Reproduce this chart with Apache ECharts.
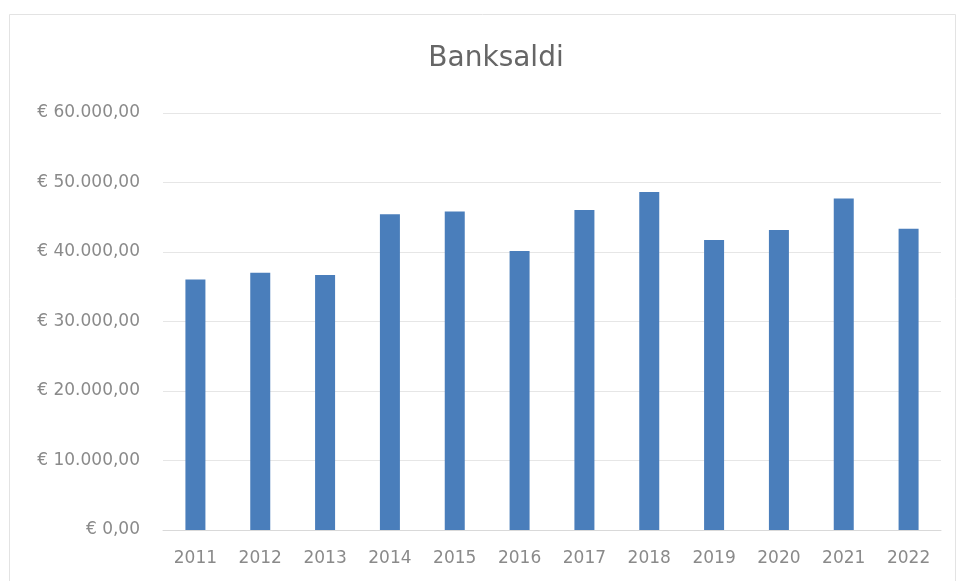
<!DOCTYPE html>
<html>
<head>
<meta charset="utf-8">
<script src="https://cdn.jsdelivr.net/npm/echarts@6/dist/echarts.min.js"></script>
<style>
html,body{margin:0;padding:0;background:#fff;}
#c{width:957px;height:581px;}
</style>
</head>
<body>
<div id="c"></div>
<script>
const titleText = 'Banksaldi';
const years = ['2011','2012','2013','2014','2015','2016','2017','2018','2019','2020','2021','2022'];
const saldi = [36050, 37020, 36680, 45430, 45810, 40140, 46050, 48650, 41720, 43170, 47690, 43360];
const yTicks = [0, 10000, 20000, 30000, 40000, 50000, 60000];

function fmtEuro(v) {
  const s = Math.round(v).toString().replace(/\B(?=(\d{3})+(?!\d))/g, '.');
  return '€ ' + s + ',00';
}

const chart = echarts.init(document.getElementById('c'));
chart.setOption({
  backgroundColor: '#fff',
  animation: false,
  title: {
    text: titleText,
    left: 491,
    textAlign: 'center',
    top: 40,
    textStyle: { fontFamily: 'DejaVu Sans', fontSize: 28, fontWeight: 'normal', color: '#666666' }
  },
  graphic: [{
    type: 'rect',
    shape: { x: 9.5, y: 14.5, width: 946, height: 580 },
    style: { fill: 'none', stroke: '#e3e3e3', lineWidth: 1 },
    silent: true
  }],
  grid: { left: 163, right: 16, top: 113, bottom: 51 },
  xAxis: {
    type: 'category',
    data: years,
    axisLine: { show: true, lineStyle: { color: '#d9d9d9' } },
    axisTick: { show: false },
    axisLabel: { color: '#8a8a8a', fontFamily: 'DejaVu Sans', fontSize: 17, margin: 20 }
  },
  yAxis: {
    type: 'value',
    min: yTicks[0],
    max: yTicks[yTicks.length - 1],
    interval: 10000,
    axisLine: { show: false },
    axisTick: { show: false },
    splitLine: { lineStyle: { color: '#e6e6e6' } },
    axisLabel: { color: '#8a8a8a', fontFamily: 'DejaVu Sans', fontSize: 17, margin: 23, formatter: fmtEuro }
  },
  series: [{
    type: 'bar',
    data: saldi,
    barWidth: 20,
    itemStyle: { color: '#4a7ebb' }
  }]
});
</script>
</body>
</html>
